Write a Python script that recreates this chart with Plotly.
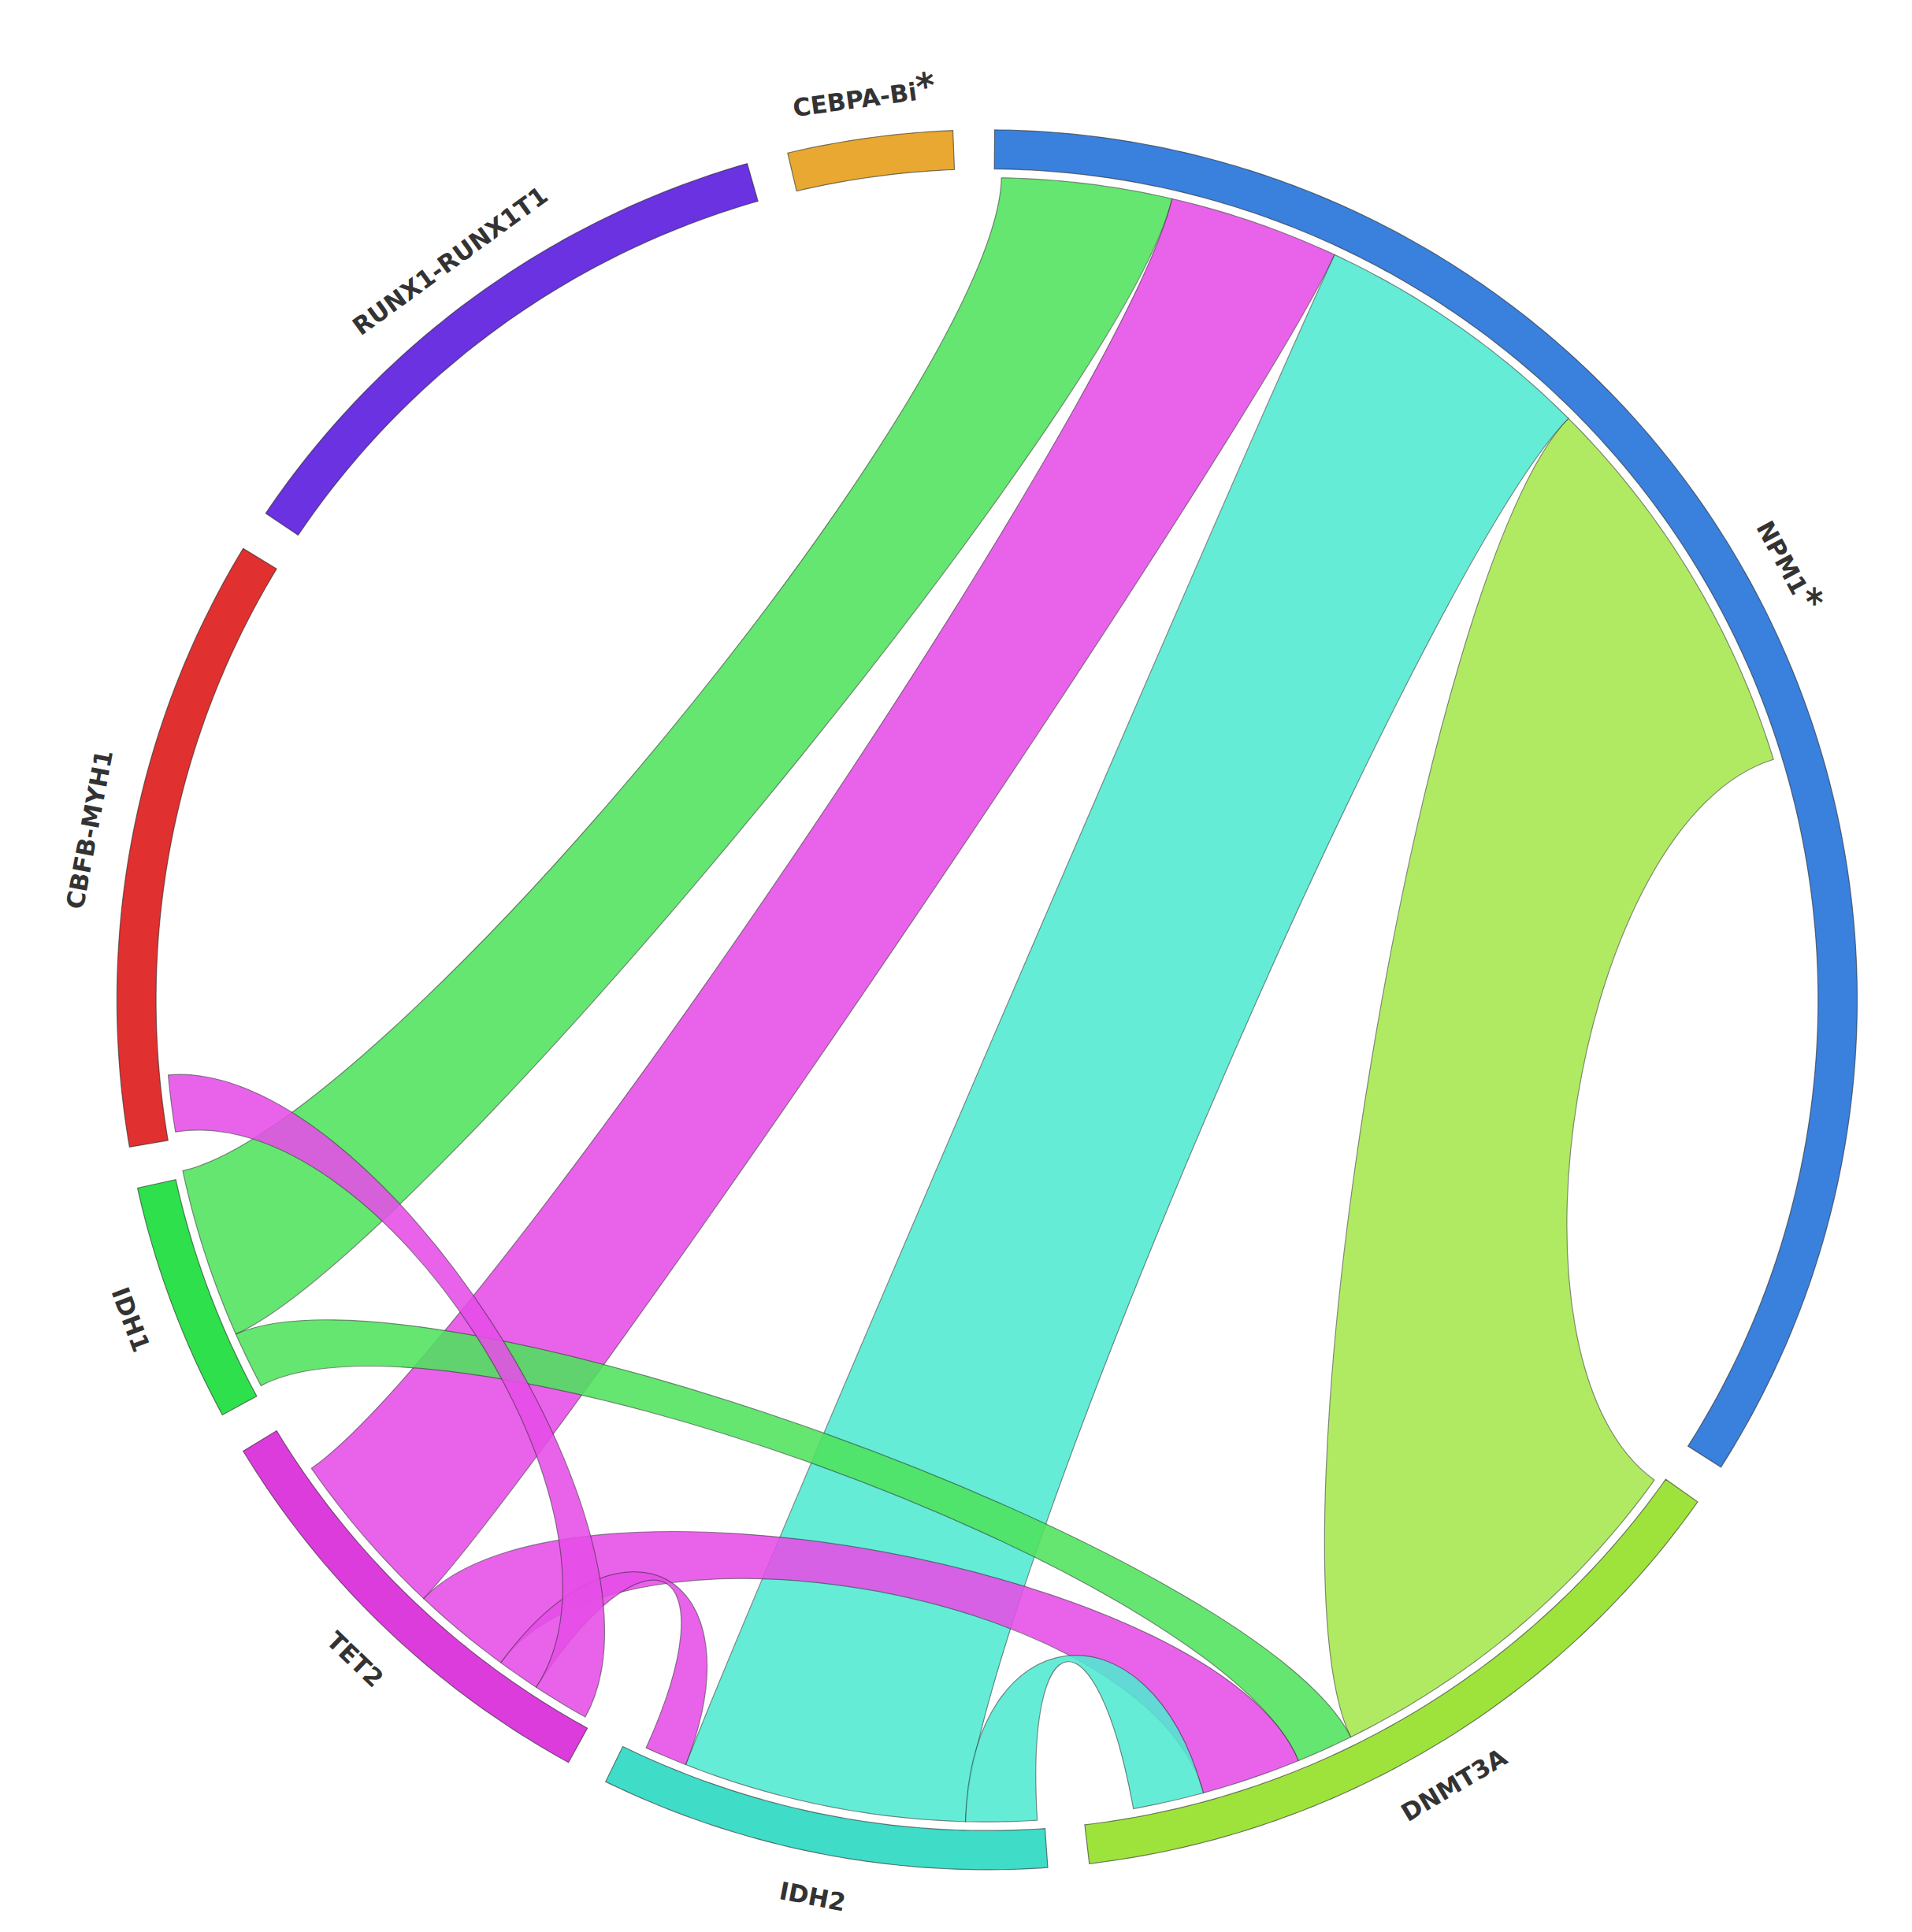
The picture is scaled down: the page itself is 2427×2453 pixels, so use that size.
import numpy as np
import plotly.graph_objects as go

segment_names = ["NPM1", "DNMT3A", "IDH2", "TET2", "IDH1", "CBFB-MYH1", "RUNX1-RUNX1T1", "CEBPA-Bi"]
segment_labels = ["NPM1<span style='font-size:46px'>*</span>", "DNMT3A", "IDH2", "TET2", "IDH1",
                  "CBFB-MYH1", "RUNX1-RUNX1T1", "CEBPA-Bi<span style='font-size:46px'>*</span>"]
segment_sizes = [122, 48, 30, 30, 16, 41, 40, 11]
segment_colors = ["#3a80dd", "#9ee33c", "#3fdcc8", "#dd3cdd", "#2ee04c", "#e03030", "#6a32e0", "#e8a832"]
ribbon_colors = ["#3a80dd", "#a6e84e", "#50ead2", "#e64ee8", "#4fe35e", "#e03030", "#6a32e0", "#e8a832"]

link_source = ["NPM1", "NPM1", "NPM1", "NPM1", "IDH1", "TET2", "IDH2", "TET2", "TET2"]
link_target = ["IDH1", "TET2", "IDH2", "DNMT3A", "DNMT3A", "DNMT3A", "DNMT3A", "IDH2", "CBFB-MYH1"]
link_values = [12, 12, 20, 28, 4, 7, 5, 3, 4]

# clockwise order of ribbons within each segment
segment_order = {
    "NPM1": ["IDH1", "TET2", "IDH2", "DNMT3A"],
    "DNMT3A": ["NPM1", "IDH1", "TET2", "IDH2"],
    "IDH2": ["DNMT3A", "NPM1", "TET2"],
    "TET2": ["CBFB-MYH1", "IDH2", "DNMT3A", "NPM1"],
    "IDH1": ["DNMT3A", "NPM1"],
    "CBFB-MYH1": ["TET2"],
}

gap = (360 - sum(segment_sizes)) / len(segment_sizes)
R_OUT, R_IN, R_RIB = 1.0, 0.955, 0.945
K = 0.75  # bezier control pull

def pt(theta, r):
    t = np.radians(theta)
    return r * np.sin(t), r * np.cos(t)

def arc_pts(a1, a2, r, n=None):
    n = n or max(4, int(abs(a2 - a1) * 2))
    return [pt(a, r) for a in np.linspace(a1, a2, n)]

starts = {}
cur = 0.5
for name, size in zip(segment_names, segment_sizes):
    starts[name] = (cur, cur + size)
    cur += size + gap

val = {}
for s, t, v in zip(link_source, link_target, link_values):
    val[(s, t)] = v
    val[(t, s)] = v
ends = {}
for seg, order in segment_order.items():
    c = starts[seg][0] + 0.5
    for other in order:
        v = val[(seg, other)]
        ends[(seg, other)] = (c, c + v)
        c += v

shapes = []
def path_from(points, close=True):
    s = "M %.5f,%.5f " % points[0] + " ".join("L %.5f,%.5f" % p for p in points[1:])
    return s + (" Z" if close else "")

def curve(p, q):
    return " C %.5f,%.5f %.5f,%.5f %.5f,%.5f" % (K * p[0], K * p[1], K * q[0], K * q[1], q[0], q[1])

color_of = dict(zip(segment_names, ribbon_colors))
for s, t in zip(link_source, link_target):
    a1, a2 = ends[(s, t)]
    b1, b2 = ends[(t, s)]
    A = arc_pts(a1, a2, R_RIB)
    B = arc_pts(b1, b2, R_RIB)
    p = "M %.5f,%.5f " % A[0] + " ".join("L %.5f,%.5f" % q for q in A[1:])
    p += curve(A[-1], B[0]) + " " + " ".join("L %.5f,%.5f" % q for q in B[1:])
    p += curve(B[-1], A[0]) + " Z"
    shapes.append(dict(type="path", path=p, xref="x", yref="y",
                       fillcolor=color_of[t] if s == "NPM1" else color_of[s], opacity=0.88,
                       line=dict(color="rgba(40,40,40,0.6)", width=1.2), layer="above"))

annotations = []
for name, lab, col in zip(segment_names, segment_labels, segment_colors):
    a1, a2 = starts[name]
    pts = arc_pts(a1, a2, R_OUT) + arc_pts(a2, a1, R_IN)
    shapes.append(dict(type="path", path=path_from(pts), xref="x", yref="y", fillcolor=col,
                       line=dict(color="rgba(40,40,40,0.6)", width=1.2), layer="above"))
    mid = (a1 + a2) / 2
    x, y = pt(mid, 1.05)
    ang = mid if mid <= 90 or mid >= 270 else mid - 180
    if ang >= 270:
        ang -= 360
    annotations.append(dict(x=x, y=y, xref="x", yref="y", text="<b>" + lab + "</b>", showarrow=False,
                            textangle=ang, font=dict(family="DejaVu Sans", size=31, color="#333333")))

fig = go.Figure()
fig.add_trace(go.Scatter(x=[0], y=[0], mode="markers", marker=dict(opacity=0), hoverinfo="skip", showlegend=False))
s = 1.035
fig.update_layout(width=2427, height=2453, autosize=False, margin=dict(l=0, r=0, t=0, b=0),
                  paper_bgcolor="white", plot_bgcolor="white", shapes=shapes, annotations=annotations,
                  xaxis=dict(range=[-1.089 * s, 1.034 * s], visible=False),
                  yaxis=dict(range=[-1.042 * s, 1.103 * s], visible=False, scaleanchor="x", scaleratio=1))
fig.write_html("out.html")
